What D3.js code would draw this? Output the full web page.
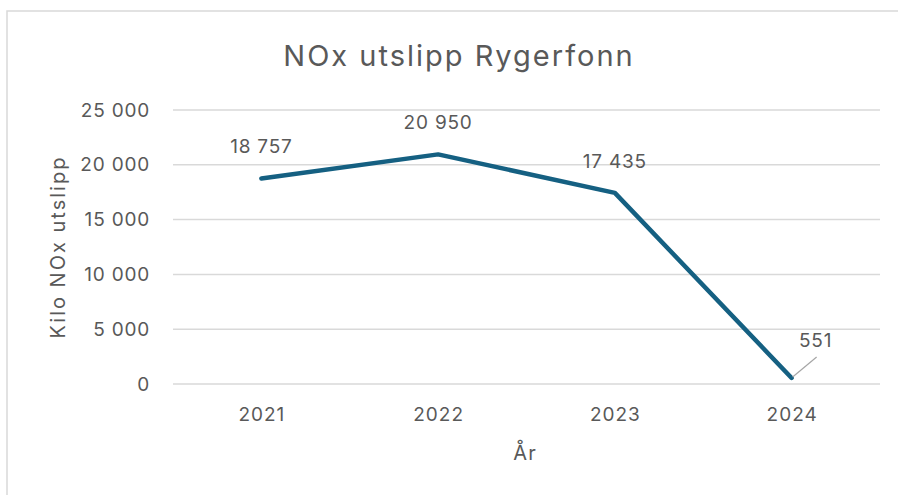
<!DOCTYPE html>
<html>
<head>
<meta charset="utf-8">
<script src="https://cdn.jsdelivr.net/npm/d3@7"></script>
<style>
  body { margin: 0; background: #fff; }
  text { font-family: Inter, "Liberation Sans", sans-serif; fill: #595959; }
</style>
</head>
<body>
<div id="chart"></div>
<script>
// chart data
const years = ["2021", "2022", "2023", "2024"];
const noxValues = [18757, 20950, 17435, 551];
const yTicks = [0, 5000, 10000, 15000, 20000, 25000];

const width = 898, height = 495;
const margin = { top: 110, right: 18, bottom: 111, left: 173 };
const innerW = width - margin.left - margin.right;
const innerH = height - margin.top - margin.bottom;

const fmt = v => d3.format(",")(v).replace(/,/g, " ");

const svg = d3.select("#chart")
    .append("svg")
    .attr("width", width)
    .attr("height", height);

// chart border
svg.append("rect")
    .attr("x", 7)
    .attr("y", 11)
    .attr("width", 1000)
    .attr("height", 1000)
    .attr("fill", "none")
    .attr("stroke", "#d9d9d9")
    .attr("stroke-width", 1.5);

svg.append("text")
    .attr("x", 459)
    .attr("y", 66)
    .attr("text-anchor", "middle")
    .style("font-size", "29px")
    .style("letter-spacing", "2px")
    .text("NOx utslipp Rygerfonn");

const g = svg.append("g")
    .attr("transform", `translate(${margin.left},${margin.top})`);

const x = d3.scalePoint()
    .domain(years)
    .range([0, innerW])
    .padding(0.5);

const y = d3.scaleLinear()
    .domain([0, 25000])
    .range([innerH, 0]);

// gridlines
g.append("g")
    .selectAll("line")
    .data(yTicks)
    .enter().append("line")
    .attr("x1", 0)
    .attr("x2", innerW)
    .attr("y1", d => y(d))
    .attr("y2", d => y(d))
    .attr("stroke", "#d9d9d9")
    .attr("stroke-width", 1.5);

const yAxis = d3.axisLeft(y).tickValues(yTicks).tickSize(0).tickPadding(23).tickFormat(fmt);
g.append("g")
    .attr("class", "y axis")
    .call(yAxis)
    .call(s => s.select(".domain").remove())
    .selectAll("text")
    .style("font-size", "19px")
    .style("letter-spacing", "0.8px");

const xAxis = d3.axisBottom(x).tickSize(0).tickPadding(24);
g.append("g")
    .attr("class", "x axis")
    .attr("transform", `translate(0, ${innerH})`)
    .call(xAxis)
    .call(s => s.select(".domain").remove())
    .selectAll("text")
    .style("font-size", "19px")
    .style("letter-spacing", "1px");

// axis titles
svg.append("text")
    .attr("x", 525)
    .attr("y", 460)
    .attr("text-anchor", "middle")
    .style("font-size", "20px")
    .style("letter-spacing", "1px")
    .text("År");

svg.append("text")
    .attr("transform", "translate(65,247) rotate(-90)")
    .attr("text-anchor", "middle")
    .style("font-size", "20px")
    .style("letter-spacing", "2px")
    .text("Kilo NOx utslipp");

const data = years.map((yr, i) => ({ year: yr, value: noxValues[i] }));

const line = d3.line()
    .x(d => x(d.year))
    .y(d => y(d.value));

g.append("path")
    .datum(data)
    .attr("fill", "none")
    .attr("stroke", "#156082")
    .attr("stroke-width", 4.5)
    .attr("stroke-linejoin", "round")
    .attr("stroke-linecap", "round")
    .attr("d", line);

// data labels
const last = data[data.length - 1];
g.append("line")
    .attr("x1", x(last.year) + 1)
    .attr("y1", y(last.value) - 1)
    .attr("x2", x(last.year) + 25)
    .attr("y2", y(last.value) - 21)
    .attr("stroke", "#a6a6a6")
    .attr("stroke-width", 1.2);

g.selectAll(".label")
    .data(data)
    .enter().append("text")
    .attr("class", "label")
    .attr("x", (d, i) => x(d.year) + (i === data.length - 1 ? 24 : 0))
    .attr("y", (d, i) => y(d.value) - (i === data.length - 1 ? 31 : 25))
    .attr("text-anchor", "middle")
    .style("font-size", "19px")
    .style("letter-spacing", "0.8px")
    .text(d => fmt(d.value));
</script>
</body>
</html>
